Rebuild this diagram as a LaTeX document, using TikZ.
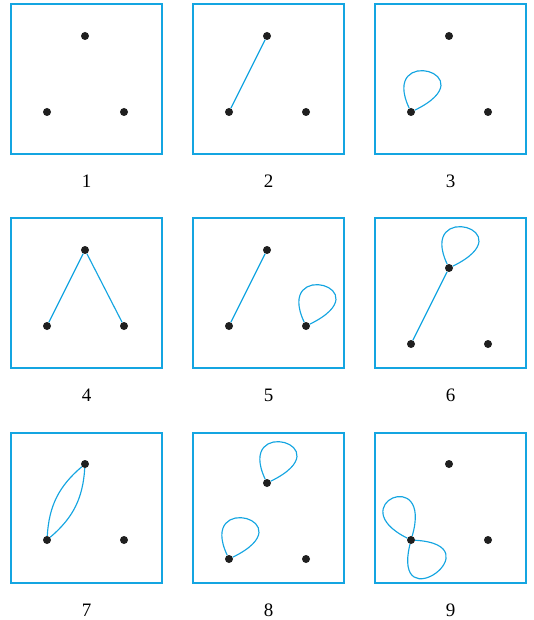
\documentclass[tikz,border=0pt]{standalone}
\usepackage{fontspec}
\setmainfont{Liberation Serif}
\definecolor{bl}{RGB}{20,165,225}
\tikzset{
  frame/.style={draw=bl, line width=1.2pt},
  vtx/.style={circle, fill=black!88, inner sep=0pt, minimum size=8pt},
  edge/.style={draw=bl, line width=1.15pt},
  lab/.style={font=\fontsize{19}{22}\selectfont, inner sep=0pt}
}
\newcommand\mypanel[5]{%
  \draw[frame] (#2,#3) rectangle ++(151,150);
  \node[vtx] (#1t) at (#2+74,#3+#4) {};
  \node[vtx] (#1l) at (#2+36,#3+#4+76) {};
  \node[vtx] (#1r) at (#2+113,#3+#4+76) {};
  \node[lab] (#1n) at (#2+75.5,#3+177) {#5};
}
\newcommand\myloop[1]{\draw[edge] (#1) .. controls +(-32,-68) and +(78,-38) .. (#1);}
\begin{document}
\begin{tikzpicture}[x=1pt,y=-1pt]
\useasboundingbox (0,0) rectangle (533,620);
\mypanel{a}{11}{4}{32}{1}
\mypanel{b}{193}{4}{32}{2}
\mypanel{c}{375}{4}{32}{3}
\mypanel{d}{11}{218}{32}{4}
\mypanel{e}{193}{218}{32}{5}
\mypanel{f}{375}{218}{50}{6}
\mypanel{g}{11}{433}{31}{7}
\mypanel{h}{193}{433}{50}{8}
\mypanel{i}{375}{433}{31}{9}
% 2
\draw[edge] (bl) -- (bt);
% 3
\myloop{cl}
% 4
\draw[edge] (dl) -- (dt) -- (dr);
% 5
\draw[edge] (el) -- (et);
\myloop{er}
% 6
\draw[edge] (fl) -- (ft);
\myloop{ft}
% 7
\draw[edge] (gl) to[bend left=23] (gt);
\draw[edge] (gl) to[bend right=23] (gt);
% 8
\myloop{ht}
\myloop{hl}
% 9
\draw[edge] (il) .. controls +(22,-75) and +(-70,-35) .. (il);
\draw[edge] (il) .. controls +(-20,82) and +(85,5) .. (il);
\end{tikzpicture}
\end{document}
